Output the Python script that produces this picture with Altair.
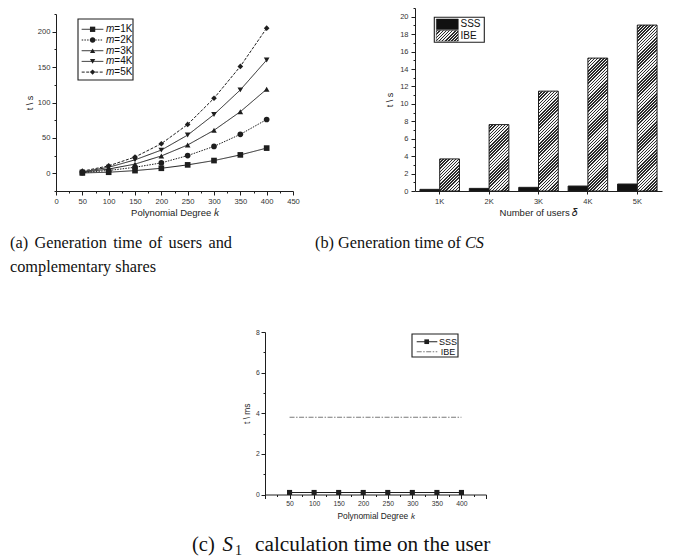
import altair as alt
import pandas as pd

# ---------------- data ----------------
degrees = [50, 100, 150, 200, 250, 300, 350, 400]
m_series = ["m=1K", "m=2K", "m=3K", "m=4K", "m=5K"]
t_m1 = [0.5, 1.5, 3.8, 7.1, 11.9, 18.0, 26.0, 35.6]
t_m2 = [1.0, 4.0, 8.5, 14.7, 25.0, 38.0, 55.0, 76.0]
t_m3 = [1.5, 6.0, 13.0, 24.5, 40.0, 60.8, 87.0, 118.8]
t_m4 = [2.0, 8.5, 19.0, 32.8, 54.0, 83.0, 117.8, 160.0]
t_m5 = [3.0, 10.5, 23.0, 41.8, 69.0, 106.0, 151.0, 205.0]

users = ["1K", "2K", "3K", "4K", "5K"]
schemes = ["SSS", "IBE"]
cs_sss = [0.19, 0.30, 0.42, 0.57, 0.80]
cs_ibe = [3.68, 7.62, 11.46, 15.25, 19.04]

s1_sss = [0.1, 0.1, 0.1, 0.1, 0.1, 0.1, 0.1, 0.1]
s1_ibe = [3.8, 3.8, 3.8, 3.8, 3.8, 3.8, 3.8, 3.8]

caption_a_words = ["(a)", "Generation", "time", "of", "users", "and"]

# ---------------- style / layout ----------------
W, H = 660, 550
SANS = "Liberation Sans"
SERIF = "Liberation Serif"
INK = "#1e1e1e"
TXT = "#111111"

# panel plot areas (pixels inside the canvas)
A_X, A_Y = [48, 285], [183, 6]
B_X, B_Y = [407, 654], [183, 0]
C_X, C_Y = [257, 478], [486.5, 324]


def qaxis(values, major, show, title, lsize, tsize, tpad, orient, offset, lpad=2):
    return alt.Axis(
        values=values,
        labelExpr="(" + show + ") ? datum.label : ''",
        tickSize={"condition": {"test": major, "value": 4}, "value": 2},
        title=title, orient=orient, offset=offset,
        labelFont=SANS, labelFontSize=lsize, labelColor="#333333",
        titleFont=SANS, titleFontSize=tsize, titleFontWeight="normal",
        titleColor="#222222", titlePadding=tpad,
        domainColor=INK, tickColor=INK, grid=False,
        labelOverlap=False, labelFlush=False, labelBound=False,
        labelPadding=lpad,
    )


def one():
    return alt.Data(values=[{"o": 0}])


def box(x1, x2, y1, y2):
    return alt.Chart(one()).mark_rect(fill="white", stroke=INK, strokeWidth=1.1).encode(
        x=alt.value(x1), x2=alt.value(x2), y=alt.value(y1), y2=alt.value(y2))


def label(text, x, y, size, font=SANS, style="normal", align="left", baseline="middle"):
    return alt.Chart(one()).mark_text(
        text=text, font=font, fontSize=size, fontStyle=style, align=align,
        baseline=baseline, color=TXT).encode(x=alt.value(x), y=alt.value(y))


def hatch(w, h, pitch=2.2, frac=0.5, dark="#2b2b2b", light="#f4f4f4"):
    # diagonal "////" hatching as a striped linear gradient in bounding-box units
    s = (w + h) / (w * w + h * h)
    dx, dy = s * w, s * h
    step = pitch * 2 ** 0.5 / (w + h)
    stops = []
    t = 0.0
    while t < 1:
        b = min(t + step * frac, 1.0)
        c = min(t + step, 1.0)
        stops += [
            alt.GradientStop(offset=round(t, 5), color=dark),
            alt.GradientStop(offset=round(b, 5), color=dark),
            alt.GradientStop(offset=round(b, 5), color=light),
            alt.GradientStop(offset=round(c, 5), color=light),
        ]
        t += step
    return alt.LinearGradient(gradient="linear", stops=stops, x1=0, y1=0,
                              x2=round(dx, 5), y2=round(dy, 5))


# ---------------- panel (a) ----------------
df_a = pd.DataFrame({
    "k": degrees * 5,
    "t": t_m1 + t_m2 + t_m3 + t_m4 + t_m5,
    "series": [s for s in m_series for _ in degrees],
})
xa = alt.X("k:Q", scale=alt.Scale(domain=[0, 450], range=A_X, nice=False),
           axis=qaxis(list(range(0, 451, 25)), "datum.value % 50 === 0",
                      "datum.value % 50 === 0", "Polynomial Degree \U0001D458",
                      7.6, 9.5, 3, "bottom", A_Y[0] - H))
ya = alt.Y("t:Q", scale=alt.Scale(domain=[-25, 225], range=A_Y, nice=False),
           axis=qaxis(list(range(-25, 226, 25)), "datum.value % 50 === 0",
                      "datum.value >= 0 && datum.value <= 200 && datum.value % 50 === 0",
                      "t \\ s", 7.6, 9, 3, "left", -A_X[0]))
shape_a = alt.Shape("series:N", scale=alt.Scale(
    domain=m_series, range=["square", "circle", "triangle-up", "triangle-down", "diamond"]), legend=None)
dash_a = alt.StrokeDash("series:N", scale=alt.Scale(
    domain=m_series, range=[[1, 0], [1.5, 1.2], [1, 0], [1, 0], [3, 1.5]]), legend=None)

lines_a = alt.Chart(df_a).mark_line(color=INK, strokeWidth=1).encode(
    x=xa, y=ya, strokeDash=dash_a, detail="series:N")
points_a = alt.Chart(df_a).mark_point(filled=True, color=INK, size=32, opacity=1).encode(
    x=xa, y=ya, shape=shape_a)

leg_a = [box(70, 125, 11, 72)]
for i, s in enumerate(m_series):
    yy = 21.3 + i * 10.7
    d = alt.Data(values=[{"series": s}])
    leg_a.append(alt.Chart(d).mark_rule(color=INK, strokeWidth=1).encode(
        x=alt.value(73.7), x2=alt.value(95.3), y=alt.value(yy), strokeDash=dash_a))
    leg_a.append(alt.Chart(d).mark_point(filled=True, color=INK, size=28, opacity=1).encode(
        x=alt.value(84.6), y=alt.value(yy), shape=shape_a))
    leg_a.append(label(s[0], 98, yy, 10, style="italic"))
    leg_a.append(label(s[1:], 106.3, yy, 10))

# caption (a): first line justified between x=2 and x=224 (word by word)
CAP = 16.3
word_em = [1.11, 4.443, 1.778, 0.833, 2.055, 1.444]   # Times advance widths (em)
gap = (222 - CAP * sum(word_em)) / (len(word_em) - 1)
cap_a = []
xpos = 2.0
for w, em in zip(caption_a_words, word_em):
    cap_a.append(label(w, round(xpos, 2), 240.4, CAP, font=SERIF, baseline="alphabetic"))
    xpos += CAP * em + gap
cap_a.append(label("complementary shares", 2, 263.5, CAP, font=SERIF, baseline="alphabetic"))

panel_a = alt.layer(lines_a, points_a, *leg_a, *cap_a)

# ---------------- panel (b) ----------------
df_b = pd.DataFrame({
    "users": users * 2,
    "scheme": [s for s in schemes for _ in users],
    "t": cs_sss + cs_ibe,
})
xb = alt.X("users:N", sort=users,
           scale=alt.Scale(domain=users, range=B_X, paddingInner=0.2, paddingOuter=0.1),
           axis=alt.Axis(title="Number of users  \U0001D6FF", labelAngle=0, tickSize=3,
                         orient="bottom", offset=B_Y[0] - H,
                         labelFont=SANS, labelFontSize=7.5, labelColor="#333333", labelPadding=3,
                         titleFont=SANS, titleFontSize=9.5, titleFontWeight="normal",
                         titleColor="#222222", titlePadding=3,
                         domainColor=INK, tickColor=INK, grid=False))
xob = alt.XOffset("scheme:N", sort=schemes,
                  scale=alt.Scale(domain=schemes, paddingInner=0, paddingOuter=0))
yb = alt.Y("t:Q", scale=alt.Scale(domain=[0, 21], range=B_Y, nice=False),
           axis=qaxis(list(range(0, 22)), "datum.value % 2 === 0",
                      "datum.value % 2 === 0 && datum.value <= 20", "t \\ s",
                      7.5, 9, 5, "left", -B_X[0], lpad=3))

bar_w = (B_X[1] - B_X[0]) / len(users) * 0.8 / 2
px_per_s = (B_Y[0] - B_Y[1]) / 21

bars_b = [alt.Chart(df_b).transform_filter(alt.datum.scheme == "SSS").mark_bar(
    fill="#111111", stroke=INK, strokeWidth=1).encode(x=xb, xOffset=xob, y=yb)]
for u, v in zip(users, cs_ibe):
    bars_b.append(
        alt.Chart(df_b).transform_filter(
            (alt.datum.scheme == "IBE") & (alt.datum.users == u)
        ).mark_bar(fill=hatch(bar_w, v * px_per_s), stroke=INK, strokeWidth=1).encode(
            x=xb, xOffset=xob, y=yb))

leg_b = [box(426.3, 476.3, 9.3, 34.3)]
leg_fill = {"SSS": "#111111", "IBE": hatch(22, 10.6)}
for i, s in enumerate(schemes):
    y1 = 11 + i * 11.5
    leg_b.append(alt.Chart(one()).mark_rect(fill=leg_fill[s], stroke=INK, strokeWidth=0.5).encode(
        x=alt.value(428.3), x2=alt.value(450.3), y=alt.value(y1), y2=alt.value(y1 + 10.6)))
    leg_b.append(label(s, 452.5, y1 + 5.4, 10))

cap_b = [
    label("(b) Generation time of", 307, 240.4, CAP, font=SERIF, baseline="alphabetic"),
    label("CS", 457, 240.4, CAP, font=SERIF, style="italic", baseline="alphabetic"),
]

panel_b = alt.layer(*bars_b, *leg_b, *cap_b)

# ---------------- panel (c) ----------------
df_c = pd.DataFrame({
    "k": degrees * 2,
    "t": s1_sss + s1_ibe,
    "scheme": [s for s in schemes for _ in degrees],
})
xc = alt.X("k:Q", scale=alt.Scale(domain=[0, 450], range=C_X, nice=False),
           axis=qaxis(list(range(0, 451, 25)), "datum.value % 50 === 0",
                      "datum.value >= 50 && datum.value <= 400 && datum.value % 50 === 0",
                      "Polynomial Degree \U0001D458", 6.8, 8.4, 4, "bottom", C_Y[0] - H))
yc = alt.Y("t:Q", scale=alt.Scale(domain=[0, 8], range=C_Y, nice=False),
           axis=qaxis(list(range(0, 9)), "datum.value % 2 === 0", "datum.value % 2 === 0",
                      "t \\ ms", 6.8, 8.4, 4, "left", -C_X[0], lpad=1.7))
dash_c = alt.StrokeDash("scheme:N", scale=alt.Scale(domain=schemes, range=[[1, 0], [5, 1.5, 1.5, 1.5]]), legend=None)
color_c = alt.Color("scheme:N", scale=alt.Scale(domain=schemes, range=[INK, "#7a7a7a"]), legend=None)

lines_c = alt.Chart(df_c).mark_line(strokeWidth=1.1).encode(
    x=xc, y=yc, strokeDash=dash_c, color=color_c, detail="scheme:N")
points_c = alt.Chart(df_c).transform_filter(alt.datum.scheme == "SSS").mark_point(
    shape="square", filled=True, color=INK, size=26, opacity=1).encode(x=xc, y=yc)

leg_c = [box(404, 450, 326, 349)]
for i, s in enumerate(schemes):
    yy = 333.7 + i * 10
    d = alt.Data(values=[{"scheme": s}])
    leg_c.append(alt.Chart(d).mark_rule(strokeWidth=1.1).encode(
        x=alt.value(408.7), x2=alt.value(429.3), y=alt.value(yy), strokeDash=dash_c, color=color_c))
    leg_c.append(label(s, 431 + i * 1.7, yy, 9))
leg_c.append(alt.Chart(one()).mark_point(
    shape="square", filled=True, color=INK, size=22, opacity=1).encode(x=alt.value(418.7), y=alt.value(333.7)))

cap_c = [
    label("(c)", 184, 543, 20.5, font=SERIF, baseline="alphabetic"),
    label("S", 214.5, 543, 21, font=SERIF, style="italic", baseline="alphabetic"),
    label("1", 227, 546.5, 14, font=SERIF, baseline="alphabetic"),
    label("calculation time on the user", 247, 543, 21.3, font=SERIF, baseline="alphabetic"),
]

panel_c = alt.layer(lines_c, points_c, *leg_c, *cap_c)

# ---------------- whole figure ----------------
chart = alt.layer(panel_a, panel_b, panel_c).resolve_scale(
    x="independent", y="independent", shape="independent",
    strokeDash="independent", color="independent",
).properties(
    width=W, height=H, padding=0, background="white",
    autosize=alt.AutoSizeParams(type="none"),
).configure_view(stroke=None)

chart.save("out.html", embed_options={"renderer": "svg", "actions": False})
